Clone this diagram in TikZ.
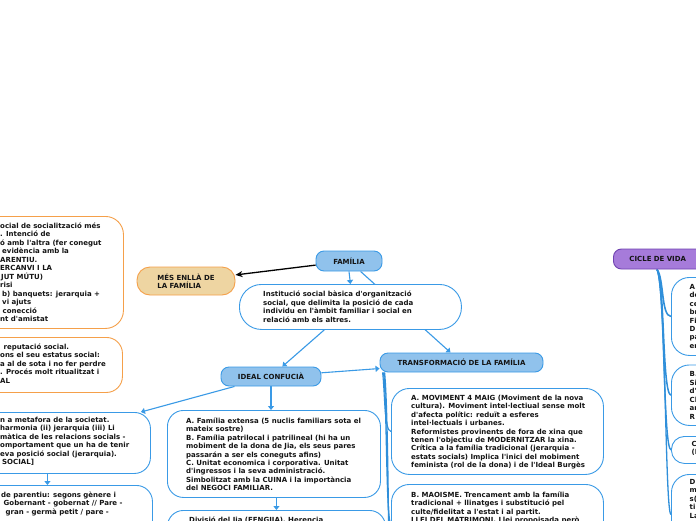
\documentclass[tikz,border=0pt]{standalone}
\usepackage{fontspec}
\setmainfont{DejaVu Sans}
\usetikzlibrary{arrows.meta,backgrounds}
\definecolor{bblue}{HTML}{3A9AE6}
\definecolor{tblue}{HTML}{2F8FDA}
\definecolor{lblue}{HTML}{90C2EC}
\definecolor{orng}{HTML}{F5A04A}
\definecolor{tanc}{HTML}{EED5A2}
\definecolor{purp}{HTML}{A67BDA}
\definecolor{purpd}{HTML}{6F42B0}
\definecolor{textc}{HTML}{141414}
\newcommand{\tstrut}{\rule{0pt}{7pt}}
\newcommand{\ap}{\textquotesingle}
\begin{document}
\begin{tikzpicture}[x=1pt,y=-1pt,
  font=\bfseries\fontsize{7}{8.45}\selectfont,
  topic/.style={draw=bblue, fill=lblue, line width=0.9pt, rounded corners=8pt, inner sep=0pt, text=textc},
  tbox/.style={draw=bblue, fill=white, line width=0.9pt, rounded corners=16pt, inner sep=0pt, anchor=north west},
  obox/.style={draw=orng, fill=white, line width=0.9pt, rounded corners=16pt, inner sep=0pt, anchor=north west},
  txt/.style={inner sep=0pt, anchor=north west, align=left, text=textc},
  conn/.style={draw=bblue, line width=1.1pt},
  arr/.style={conn, -{Triangle[length=4pt,width=6pt]}},
  trunk/.style={draw=tblue, line width=1.3pt},
]
\useasboundingbox (0,0) rectangle (696,520);
\clip (0,0) rectangle (696,520);

% main topics
\node[topic, minimum width=66pt, minimum height=20pt] (fam) at (349,261) {FAMÍLIA};
\node[topic, draw=orng, fill=tanc, rounded corners=13pt, minimum width=98pt, minimum height=28pt, align=left] (mes) at (186,281) {MÉS ENLLÀ DE\\LA FAMÍLIA};
\node[topic, minimum width=100pt, minimum height=19pt] (ideal) at (271,376.5) {IDEAL CONFUCIÀ};
\node[topic, minimum width=163pt, minimum height=19pt] (tr) at (461.5,362.5) {TRANSFORMACIÓ DE LA FAMÍLIA};
\node[topic, draw=purpd, fill=purp, anchor=west, minimum height=20pt, text width=100pt, inner xsep=16pt, align=left] (cicle) at (613,259) {CICLE DE VIDA};

% definition
\node[tbox, rounded corners=22pt, minimum width=222pt, minimum height=45pt] (def) at (239,284) {};
\node[txt] (deft) at (263,289.6) {\tstrut Institució social bàsica d\ap organització\\social, que delimita la posició de cada\\individu en l\ap àmbit familiar i social en\\relació amb els altres.};

% ideal confucià children
\node[tbox, minimum width=213pt, minimum height=87pt] (fa) at (167,410) {};
\node[txt] (fat) at (186,416) {\tstrut A. Família extensa (5 nuclis familiars sota el\\mateix sostre)\\B. Família patrilocal i patrilineal (hi ha un\\mobiment de la dona de Jia, els seus pares\\passarán a ser els coneguts afins)\\C. Unitat economica i corporativa. Unitat\\d\ap ingressos i la seva administració.\\Simbolitzat amb la CUINA i la importància\\del NEGOCI FAMILIAR.};
\node[tbox, minimum width=218pt, minimum height=60pt] (fd) at (167,510) {};
\node[txt] (fdt) at (189,515.6) {\tstrut Divisió del Jia (FENGJIA). Herencia};

\node[tbox, minimum width=206pt, minimum height=61pt] (l3) at (-56,412) {};
\node[txt] (l3t) at (0,415.3) {\tstrut n a metafora de la societat.\\harmonia (ii) jerarquia (iii) Li\\màtica de les relacions socials -\\omportament que un ha de tenir\\eva posició social (jerarquia).\\\hspace*{2pt}SOCIAL]};
\node[tbox, minimum width=208pt, minimum height=80pt] (l4) at (-56,485) {};
\node[txt] (l4t) at (0,490.3) {\tstrut\hspace*{1pt}de parentiu: segons gènere i\\\hspace*{3.5pt}Gobernant - gobernat // Pare -\\\hspace*{5.5pt}gran - germà petit / pare -};

% més enllà children
\node[obox, rounded corners=18pt, minimum width=223pt, minimum height=112pt] (l1) at (-100,216) {};
\node[txt] (l1t) at (0,221.3) {\tstrut ocial de socialització més\\. Intenció de\\ó amb l\ap altra (fer conegut\\\hspace*{2pt}evidència amb la\\ARENTIU.\\ERCANVI I LA\\\hspace*{1pt}JUT MÚTU)\\risi\\\hspace*{2pt}b) banquets: jerarquia +\\\hspace*{2pt}vi ajuts\\\hspace*{2.5pt}conecció\\nt d\ap amistat};
\node[obox, minimum width=222pt, minimum height=55pt] (l2) at (-100,337) {};
\node[txt] (l2t) at (0,342) {\tstrut\hspace*{3.5pt}reputació social.\\ons el seu estatus social:\\a al de sota i no fer perdre\\. Procés molt ritualitzat i\\AL};

% transformació children
\node[tbox, rounded corners=18pt, minimum width=212pt, minimum height=86pt] (ta) at (391,388) {};
\node[txt] (tat) at (411,393) {\tstrut A. MOVIMENT 4 MAIG (Moviment de la nova\\cultura). Moviment intel·lectiual sense molt\\d\ap afecta polític: reduït a esferes\\intel·lectuals i urbanes.\\Reformistes provinents de fora de xina que\\tenen l\ap objectiu de MODERNITZAR la xina.\\Crítica a la família tradicional (jerarquia -\\estats socials) Implica l\ap inici del mobiment\\feminista (rol de la dona) i de l\ap Ideal Burgès};
\node[tbox, rounded corners=18pt, minimum width=212pt, minimum height=80pt] (tb) at (391,484) {};
\node[txt] (tbt) at (411,490.3) {\tstrut B. MAOISME. Trencament amb la família\\tradicional + llinatges i substitució pel\\culte/fidelitat a l\ap estat i al partit.\\LLEI DEL MATRIMONI. Llei propoisada però};
\coordinate (tcbelow) at (391,600);

% cicle de vida children
\node[tbox, rounded corners=18pt, minimum width=100pt, minimum height=78pt] (c1) at (671,277) {};
\node[txt] (c1t) at (689.5,282) {\tstrut A.\\de\\ce\\br\\Fi\\D\\pa\\en};
\node[tbox, rounded corners=18pt, minimum width=100pt, minimum height=60.5pt] (c2) at (671,364.5) {};
\node[txt] (c2t) at (689.5,369.6) {\tstrut B.\\Si\\d\ap\\Cl\\ar\\R};
\node[tbox, rounded corners=13pt, minimum width=100pt, minimum height=27pt] (c3) at (671,436) {};
\node[txt] (c3t) at (691.5,439.3) {\tstrut C\\(I};
\node[tbox, rounded corners=18pt, minimum width=100pt, minimum height=80pt] (c4) at (671,474) {};
\node[txt] (c4t) at (689.5,477) {\tstrut D\\m\\s(\\ti\\La};

\begin{pgfonlayer}{background}
\fill[white] (0,0) rectangle (696,520);
\clip (0,0) rectangle (696,520);
\draw[arr] (fam) -- (tr);
\draw[arr] (fam.south) -- (def.north);
\draw[arr] (def) -- (ideal);
\draw[arr] (ideal) -- (tr);
\draw[arr] (ideal) -- ([xshift=-10pt]l3.north east);
\draw[arr] (ideal.south) -- (ideal.south |- fa.north);
\draw[arr] (fd.north |- fa.south) -- (fd.north);
\draw[arr] (l3.south) -- (l3.south |- l4.north);
\draw[trunk, line width=1.1pt] ([xshift=3pt]tr.south west) .. controls (385,392) and (384,431) .. (ta.west);
\draw[trunk, line width=1.3pt] ([xshift=4pt]tr.south west) .. controls (387,400) and (386,524) .. (tb.west);
\draw[trunk, line width=1.3pt] ([xshift=5pt]tr.south west) .. controls (389,420) and (388,600) .. (tcbelow);
\draw[trunk, line width=1.6pt] ([xshift=44pt]cicle.south west) .. controls (664,278) and (661,316) .. (c1.west);
\draw[trunk, line width=1.5pt] ([xshift=44pt]cicle.south west) .. controls (665,282) and (662,394) .. (c2.west);
\draw[trunk, line width=1.4pt] ([xshift=44pt]cicle.south west) .. controls (665,286) and (663,449) .. (c3.west);
\draw[trunk, line width=1.3pt] ([xshift=44pt]cicle.south west) .. controls (666,290) and (665,514) .. (c4.west);
\end{pgfonlayer}
\draw[line width=1.3pt, -{Stealth[length=7pt,width=6pt]}] (fam) -- (mes);
\end{tikzpicture}
\end{document}
